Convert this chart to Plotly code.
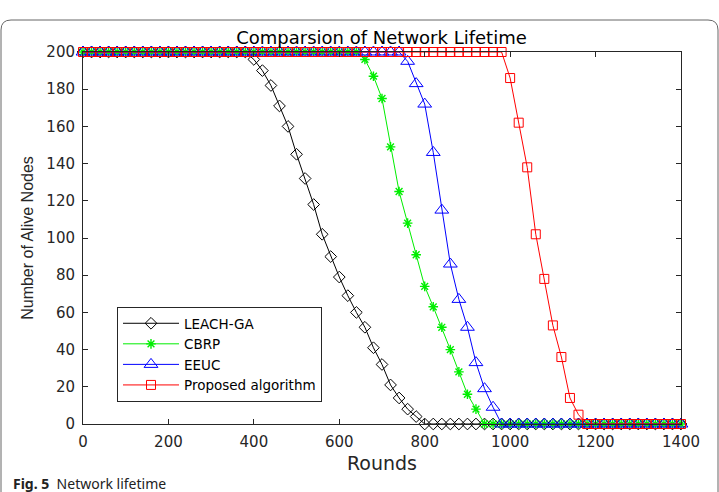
import plotly.graph_objects as go

rounds = list(range(0, 1401, 20))

leach_ga = [200, 200, 200, 200, 200, 200, 200, 200, 200, 200,
            200, 200, 200, 200, 200, 200, 200, 200, 200, 200,
            196, 190, 182, 171, 160, 145, 132, 118, 102, 90,
            79, 69, 60, 52, 41, 32, 21, 14, 8, 4,
            0, 0, 0, 0, 0, 0, 0, 0, 0, 0,
            0, 0, 0, 0, 0, 0, 0, 0, 0, 0,
            0, 0, 0, 0, 0, 0, 0, 0, 0, 0, 0]

cbrp = [200, 200, 200, 200, 200, 200, 200, 200, 200, 200,
        200, 200, 200, 200, 200, 200, 200, 200, 200, 200,
        200, 200, 200, 200, 200, 200, 200, 200, 200, 200,
        200, 200, 200, 196, 187, 175, 149, 125, 108, 91,
        74, 63, 52, 40, 28, 16, 8, 0, 0, 0,
        0, 0, 0, 0, 0, 0, 0, 0, 0, 0,
        0, 0, 0, 0, 0, 0, 0, 0, 0, 0, 0]

eeuc = [200, 200, 200, 200, 200, 200, 200, 200, 200, 200,
        200, 200, 200, 200, 200, 200, 200, 200, 200, 200,
        200, 200, 200, 200, 200, 200, 200, 200, 200, 200,
        200, 200, 200, 200, 200, 200, 200, 200, 195, 183,
        172, 146, 115, 86, 67, 52, 33, 19, 9, 0,
        0, 0, 0, 0, 0, 0, 0, 0, 0, 0,
        0, 0, 0, 0, 0, 0, 0, 0, 0, 0, 0]

proposed = [200, 200, 200, 200, 200, 200, 200, 200, 200, 200,
            200, 200, 200, 200, 200, 200, 200, 200, 200, 200,
            200, 200, 200, 200, 200, 200, 200, 200, 200, 200,
            200, 200, 200, 200, 200, 200, 200, 200, 200, 200,
            200, 200, 200, 200, 200, 200, 200, 200, 200, 200,
            186, 162, 138, 102, 78, 53, 36, 14, 5, 0,
            0, 0, 0, 0, 0, 0, 0, 0, 0, 0, 0]

series_names = ["LEACH-GA", "CBRP", "EEUC", "Proposed algorithm"]
x_ticks = [0, 200, 400, 600, 800, 1000, 1200, 1400]
y_ticks = [0, 20, 40, 60, 80, 100, 120, 140, 160, 180, 200]

FONT = "DejaVu Sans"
AX = "#262626"

W, H = 719, 492
L, R, T, B = 83, 38, 52, 68
PW, PH = W - L - R, H - T - B


def px(xp):
    return (xp - L) / PW


def py(yp):
    return (H - B - yp) / PH


fig = go.Figure()

styles = [
    dict(color="#000000", symbol="diamond-open", size=9, lw=1),
    dict(color="#00ee00", symbol="asterisk-open", size=8, lw=1.4),
    dict(color="#0000ff", symbol="triangle-up-open", size=12, lw=1),
    dict(color="#ff0000", symbol="square-open", size=9, lw=1),
]
data = [leach_ga, cbrp, eeuc, proposed]

for name, ys, st in zip(series_names, data, styles):
    fig.add_trace(go.Scatter(
        x=rounds, y=ys, name=name, mode="lines+markers",
        line=dict(color=st["color"], width=1),
        marker=dict(symbol=st["symbol"], size=st["size"], color=st["color"],
                    line=dict(color=st["color"], width=st["lw"])),
        cliponaxis=False,
    ))

# rounded figure border
x0, y0, x1, y1, r = 1, 20, 718, 540, 10
path = (f"M{px(x0 + r)},{py(y0)} L{px(x1 - r)},{py(y0)} "
        f"Q{px(x1)},{py(y0)} {px(x1)},{py(y0 + r)} "
        f"L{px(x1)},{py(y1 - r)} Q{px(x1)},{py(y1)} {px(x1 - r)},{py(y1)} "
        f"L{px(x0 + r)},{py(y1)} Q{px(x0)},{py(y1)} {px(x0)},{py(y1 - r)} "
        f"L{px(x0)},{py(y0 + r)} Q{px(x0)},{py(y0)} {px(x0 + r)},{py(y0)} Z")
fig.add_shape(type="path", path=path, xref="paper", yref="paper",
              line=dict(color="#666666", width=1), layer="below")

fig.add_annotation(
    text="<b>Fig. 5</b>  Network lifetime", xref="paper", yref="paper",
    x=px(11), y=py(483), xanchor="left", yanchor="middle", showarrow=False,
    font=dict(family="Noto Sans", size=14, color="#222222"))

fig.update_layout(
    width=W, height=H, autosize=False,
    margin=dict(l=L, r=R, t=T, b=B, pad=0),
    paper_bgcolor="white", plot_bgcolor="white",
    font=dict(family=FONT, color=AX),
    title=dict(text="Comparsion of Network Lifetime", x=px(381.5), xanchor="center",
               xref="paper", y=1 - 38 / H, yref="container", yanchor="middle",
               font=dict(family=FONT, size=18, color="#000000")),
    showlegend=True,
    legend=dict(x=px(117), y=py(307), xanchor="left", yanchor="top",
                bgcolor="white", bordercolor=AX, borderwidth=1,
                font=dict(family=FONT, size=13.5, color="#000000"),
                itemwidth=56, tracegroupgap=0),
)

fig.update_xaxes(
    range=[0, 1400], tickvals=x_ticks, ticks="inside", ticklen=5,
    tickcolor=AX, showline=True, linecolor=AX, linewidth=1, mirror="ticks",
    showgrid=False, zeroline=False, tickfont=dict(family=FONT, size=15, color=AX),
    ticklabelstandoff=4,
    title=dict(text="Rounds", font=dict(family=FONT, size=19, color=AX), standoff=6),
)
fig.update_yaxes(
    range=[0, 200], tickvals=y_ticks, ticks="inside", ticklen=5,
    tickcolor=AX, showline=True, linecolor=AX, linewidth=1, mirror="ticks",
    showgrid=False, zeroline=False, tickfont=dict(family=FONT, size=15, color=AX),
    ticklabelstandoff=4,
    title=dict(text="Number of Alive Nodes",
               font=dict(family="Liberation Sans", size=16, color=AX), standoff=8),
)

fig.write_html("out.html")
